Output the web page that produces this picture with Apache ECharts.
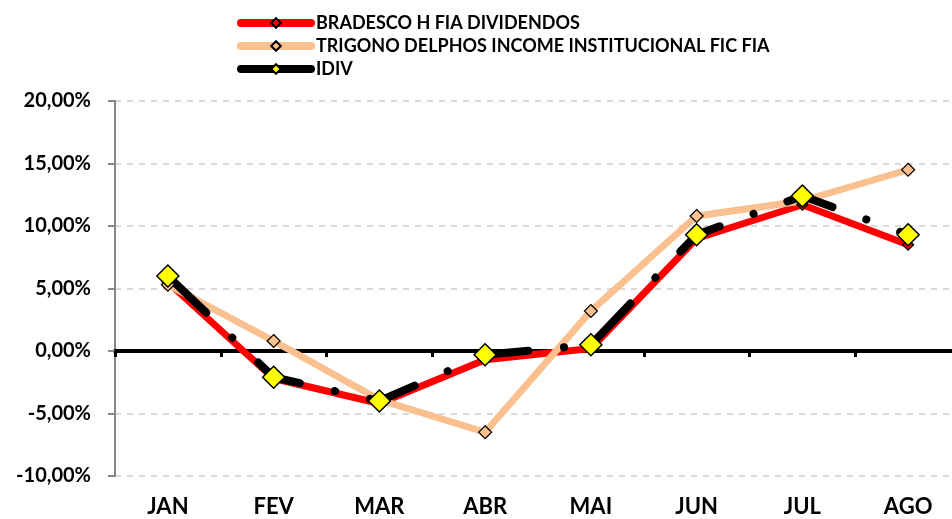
<!DOCTYPE html>
<html><head><meta charset="utf-8">
<script src="https://cdn.jsdelivr.net/npm/echarts@6/dist/echarts.min.js"></script>
<style>html,body{margin:0;padding:0;background:#fff}#c{width:952px;height:519px}</style>
</head><body><div id="c"></div>
<script>
const categories = ['JAN','FEV','MAR','ABR','MAI','JUN','JUL','AGO'];
const bradesco = [5.5, -2.2, -4.2, -0.7, 0.2, 9.0, 11.7, 8.5];
const trigono = [5.3, 0.8, -3.9, -6.5, 3.2, 10.8, 12.0, 14.5];
const idiv = [6.0, -2.1, -4.0, -0.3, 0.5, 9.3, 12.4, 9.3];
const seriesNames = ['BRADESCO H FIA DIVIDENDOS','TRIGONO DELPHOS INCOME INSTITUCIONAL FIC FIA','IDIV'];
const yMin = -10, yMax = 20, yStep = 5;

const FONT = 'Lato, "Open Sans", sans-serif';
const chart = echarts.init(document.getElementById('c'), null, {renderer:'canvas'});
chart.setOption({
  animation: false,
  backgroundColor: '#fff',
  grid: {left: 115, top: 101, width: 846, height: 375, containLabel: false, outerBoundsMode: 'none'},
  legend: {
    orient: 'vertical', left: 232, top: 9, padding: 5,
    itemWidth: 70, itemHeight: 12, itemGap: 5,
    textStyle: {fontSize: 18, lineHeight: 18, fontWeight: 'bold', color: '#000', fontFamily: FONT},
    lineStyle: {width: 8, cap: 'round'},
    data: [
      {name: seriesNames[0]},
      {name: seriesNames[1]},
      {name: seriesNames[2], lineStyle: {type: 'solid', width: 8, cap: 'round'}}
    ]
  },
  xAxis: [
    {type: 'category', data: categories, position: 'bottom',
     axisLine: {show: false, onZero: false}, axisTick: {show: false},
     axisLabel: {margin: 20, fontSize: 22, fontWeight: 'bold', color: '#000', fontFamily: FONT}},
    {type: 'category', data: categories, position: 'bottom',
     axisLine: {show: true, onZero: true, lineStyle: {color: '#000', width: 4}},
     axisTick: {show: true, length: 6, lineStyle: {color: '#000', width: 3}},
     axisLabel: {show: false}}
  ],
  yAxis: {
    type: 'value', min: yMin, max: yMax, interval: yStep,
    axisLine: {show: true, lineStyle: {color: '#868686', width: 2}},
    axisTick: {show: true, length: 7, lineStyle: {color: '#868686', width: 2}},
    axisLabel: {margin: 24, fontSize: 20, fontWeight: 'bold', color: '#000', fontFamily: FONT,
      formatter: v => v.toFixed(2).replace('.', ',') + '%'},
    splitLine: {show: true, lineStyle: {color: '#D9D9D9', width: 2, type: [6, 6]}}
  },
  series: [
    {name: seriesNames[0], type: 'line', data: bradesco, xAxisIndex: 0,
     symbol: 'diamond', symbolSize: 11,
     lineStyle: {color: '#FF0000', width: 7, cap: 'round', join: 'round'},
     itemStyle: {color: '#FF0000', borderColor: '#000', borderWidth: 1.2}},
    {name: seriesNames[1], type: 'line', data: trigono, xAxisIndex: 0,
     symbol: 'diamond', symbolSize: 13,
     lineStyle: {color: '#FAC090', width: 7, cap: 'round', join: 'round'},
     itemStyle: {color: '#FAC090', borderColor: '#000', borderWidth: 1.2}},
    {name: seriesNames[2], type: 'line', data: idiv, xAxisIndex: 0,
     symbol: 'diamond', symbolSize: 22,
     lineStyle: {color: '#000', width: 8, type: [48, 36, 0.1, 36], dashOffset: 115, cap: 'round', join: 'round'},
     itemStyle: {color: '#FFFF00', borderColor: '#000', borderWidth: 1.5}}
  ]
});
</script></body></html>
